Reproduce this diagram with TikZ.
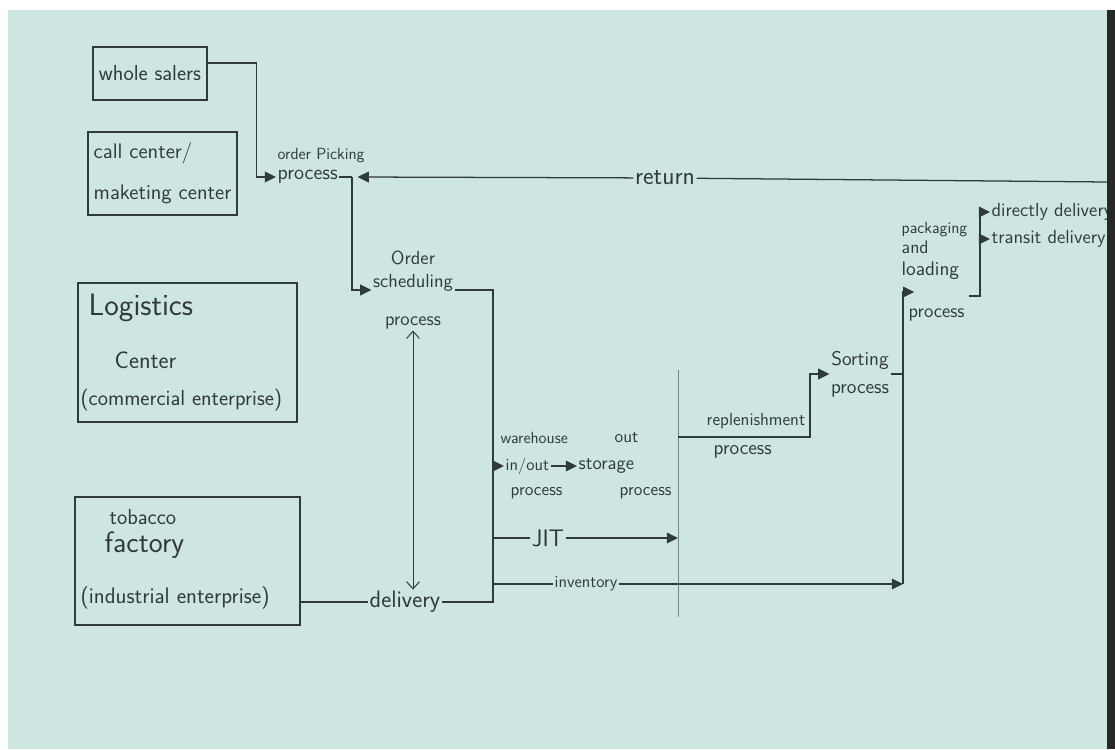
\documentclass[tikz,border=0pt]{standalone}
\usepackage{tikz}
\usetikzlibrary{arrows.meta, positioning}
\definecolor{paper}{RGB}{206,230,226}
\definecolor{ink}{RGB}{48,58,58}
\definecolor{edge}{RGB}{38,40,40}
\newcommand{\fsz}[1]{\fontsize{#1}{#1}\selectfont}
\tikzset{
  box/.style={
    rectangle,
    draw=ink,
    line width=0.9pt,
    text=ink,
    font=\sffamily\fsz{15.5},
    inner sep=0pt
  },
  lbl/.style={
    text=ink,
    inner sep=1pt,
    font=\sffamily\fsz{#1}
  },
  lbl/.default=12,
  tag/.style={fill=paper},
  link/.style={
    draw=ink,
    line width=0.9pt
  },
  arrow/.style={
    -{Triangle[length=2.8mm, width=2.7mm]},
    draw=ink,
    line width=0.9pt
  },
  both/.style={
    {Straight Barb[length=1.8mm, width=3.2mm]}-{Straight Barb[length=1.8mm, width=3.2mm]},
    draw=ink,
    line width=0.7pt
  },
  faint/.style={
    draw=ink!55!paper,
    line width=0.6pt
  }
}

\begin{document}
\begin{tikzpicture}[x=0.025cm, y=-0.025cm]
    % sheet of paper
    \fill[white] (0,0) rectangle (1115,749);
    \fill[paper] (8,10) rectangle (1107,749);

    % enterprises
    \node[box, minimum width=2.85cm, minimum height=1.325cm] (whole) at (150,73.5) {whole salers};
    \node[box, minimum width=3.725cm, minimum height=2.075cm, align=left, font=\sffamily\fsz{15}] (call) at (162.5,173.5) {call center/\\[14pt]maketing center};
    \node[box, minimum width=5.475cm, minimum height=3.475cm] (logi) at (187.5,352.5) {};
    \node[lbl=22, anchor=west] (logiA) at (87,308) {Logistics};
    \node[lbl=17, anchor=west] (logiB) at (113,360) {Center};
    \node[lbl=15.5, anchor=west] (logiC) at (79,400) {(commercial enterprise)};
    \node[box, minimum width=5.625cm, minimum height=3.2cm] (tob) at (187.5,561) {};
    \node[lbl=15.5, anchor=west] (tobA) at (108,517) {tobacco};
    \node[lbl=21, anchor=west] (tobB) at (103,545) {factory};
    \node[lbl=16, anchor=west] (tobC) at (79,598) {(industrial enterprise)};

    % order side
    \node[lbl=14.5, anchor=west] (opick) at (276,177) {process};
    \node[lbl=11.5, above=3pt of opick.north west, anchor=south west] (opickt) {order Picking};
    \node[lbl=18, tag] (ret) at (665,178) {return};
    \node[lbl=13.5, align=center] (osched) at (413,290) {Order\\[3pt]scheduling\\[13pt]process};
    \node[lbl=17, tag] (dlv) at (405,602) {delivery};
    \coordinate (pj) at (352,177);
    \coordinate (rend) at (1107,182);
    \coordinate (bus) at (493,290);

    % warehouse side
    \node[lbl=12, anchor=west] (wio) at (504,466) {in/out};
    \node[lbl=11.5, anchor=west] (wh) at (499,438) {warehouse};
    \node[lbl=12.5, anchor=west] (whp) at (509,493) {process};
    \node[lbl=13.5, anchor=west] (sto) at (577,466) {storage};
    \node[lbl=12.5, anchor=west] (stoA) at (613,438) {out};
    \node[lbl=12.5, anchor=west] (stoB) at (618,493) {process};
    \node[lbl=17, tag] (jit) at (548,538) {JIT};
    \node[lbl=12, tag] (inv) at (586,584) {inventory};
    \coordinate (dtop) at (678,370);
    \coordinate (dbot) at (678,617);
    \coordinate (rl) at (678,437);
    \node[lbl=12.5, anchor=west] (repl) at (705,421) {replenishment};
    \node[lbl=14, anchor=west] (replp) at (712,452) {process};
    \node[lbl=14, align=center] (sort) at (860,374) {Sorting\\[6pt]process};

    % dispatch side
    \coordinate (pbot) at (903,584);
    \coordinate (ptop) at (903,292);
    \node[lbl=11.5, anchor=west, align=left] (pack) at (900,251) {packaging\\[3pt]{\fsz{13}and}\\[4pt]{\fsz{14}loading}};
    \node[lbl=13.5, anchor=west] (pproc) at (907,315) {process};
    \coordinate (bb) at (980,296);
    \coordinate (bt) at (980,212);
    \node[lbl=13.5, anchor=west] (dd) at (990,212) {directly delivery};
    \node[lbl=13.5, anchor=west] (td) at (990,239) {transit delivery};

    % connectors
    \draw[arrow] ([yshift=2.6mm]whole.east) -- ++(49,0) |- (opick.west);
    \draw[link] (rend) -- (ret);
    \draw[arrow] (ret) -- ([xshift=4pt]pj);
    \draw[link] (opick.east) -- (pj);
    \draw[arrow] (pj) |- (osched.west);
    \draw[link] (osched.east) -- (bus) |- (dlv.east);
    \draw[link] (tob.east |- dlv.west) -- (dlv.west);
    \draw[both] (osched.south) -- (osched.south |- dlv.north);
    \draw[arrow] (bus |- wio.west) -- (wio.west);
    \draw[arrow] (wio.east) -- (sto.west);
    \draw[link] (bus |- jit) -- (jit);
    \draw[arrow] (jit) -- (jit -| dtop);
    \draw[link] (bus |- inv) -- (inv);
    \draw[arrow] (inv) -- (pbot);
    \draw[faint] (dtop) -- (dbot);
    \draw[arrow] (rl) -- ++(132,0) |- (sort.west);
    \draw[link] (sort.east) -- (sort.east -| pbot);
    \draw[arrow] (pbot) -- (ptop) -- ([xshift=8pt]ptop);
    \draw[link] (pack.east |- bb) -- (bb) -- (bt);
    \draw[arrow] (bt) -- (dd.west);
    \draw[arrow] (bb |- td.west) -- (td.west);

    % edge of the sheet
    \fill[edge] (1107,10) rectangle (1115,749);
\end{tikzpicture}
\end{document}
